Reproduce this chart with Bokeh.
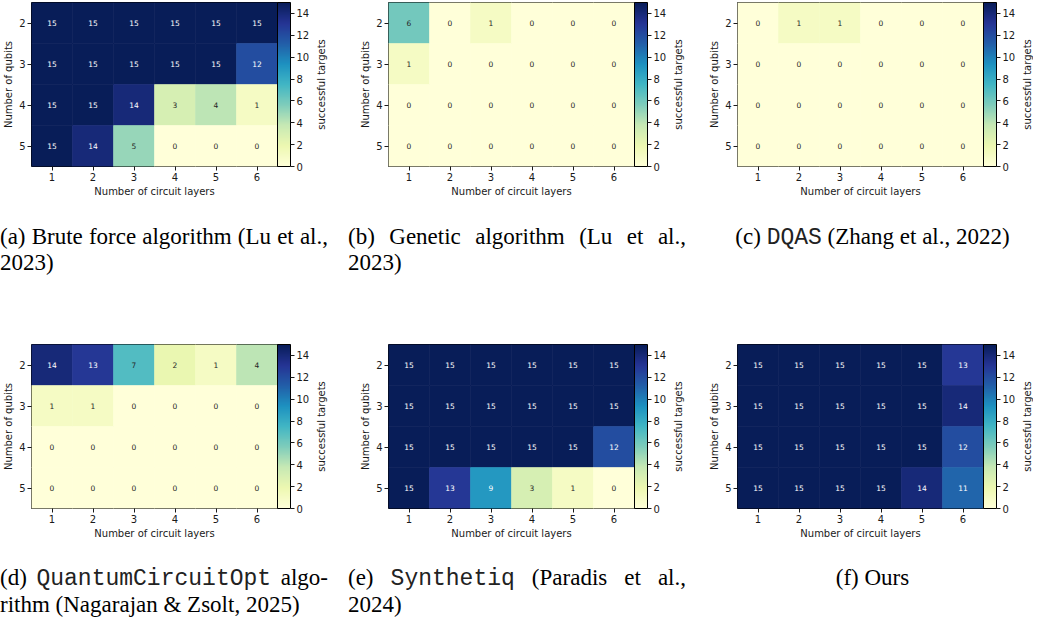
import numpy as np
from bokeh.plotting import figure
from bokeh.models import (ColumnDataSource, ColorBar, LinearColorMapper, FixedTicker,
                          Range1d, Div, Spacer)
from bokeh.layouts import column, row
from bokeh.embed import file_html
from bokeh.resources import INLINE
from bokeh.core.properties import value

# ---------------- data ----------------
layers = [1, 2, 3, 4, 5, 6]
qubits = [2, 3, 4, 5]

brute_force = [[15, 15, 15, 15, 15, 15],
               [15, 15, 15, 15, 15, 12],
               [15, 15, 14, 3, 4, 1],
               [15, 14, 5, 0, 0, 0]]
genetic = [[6, 0, 1, 0, 0, 0],
           [1, 0, 0, 0, 0, 0],
           [0, 0, 0, 0, 0, 0],
           [0, 0, 0, 0, 0, 0]]
dqas = [[0, 1, 1, 0, 0, 0],
        [0, 0, 0, 0, 0, 0],
        [0, 0, 0, 0, 0, 0],
        [0, 0, 0, 0, 0, 0]]
qcopt = [[14, 13, 7, 2, 1, 4],
         [1, 1, 0, 0, 0, 0],
         [0, 0, 0, 0, 0, 0],
         [0, 0, 0, 0, 0, 0]]
synthetiq = [[15, 15, 15, 15, 15, 15],
             [15, 15, 15, 15, 15, 15],
             [15, 15, 15, 15, 15, 12],
             [15, 13, 9, 3, 1, 0]]
ours = [[15, 15, 15, 15, 15, 13],
        [15, 15, 15, 15, 15, 14],
        [15, 15, 15, 15, 15, 12],
        [15, 15, 15, 15, 14, 11]]

cbar_ticks = [0, 2, 4, 6, 8, 10, 12, 14]
vmin, vmax = 0, 15

x_label = "Number of circuit layers"
y_label = "Number of qubits"
cbar_label = "successful targets"

# ---------------- colormap (YlGnBu) ----------------
ylgnbu9 = ['#ffffd9', '#edf8b1', '#c7e9b4', '#7fcdbb', '#41b6c4',
           '#1d91c0', '#225ea8', '#253494', '#081d58']
anchors = np.array([[int(c[i:i + 2], 16) / 255.0 for i in (1, 3, 5)] for c in ylgnbu9])
pos = np.linspace(0, 1, len(anchors))
t = np.linspace(0, 1, 256)
rgb256 = np.stack([np.interp(t, pos, anchors[:, k]) for k in range(3)], axis=1)
palette = ['#%02x%02x%02x' % tuple(int(round(v * 255)) for v in c) for c in rgb256]


def text_color(v):
    idx = min(int((v - vmin) / (vmax - vmin) * 256), 255)
    c = rgb256[idx]
    c = np.where(c <= 0.03928, c / 12.92, ((c + 0.055) / 1.055) ** 2.4)
    lum = c.dot([0.2126, 0.7152, 0.0722])
    return '#262626' if lum > 0.408 else '#ffffff'


FONT = "DejaVu Sans"
TXT = "#1a1a1a"
FW, FH = 246, 164
TOP, BOTTOM = 2, 33


def heat(vals):
    xs, ys, vs, labels, tcols = [], [], [], [], []
    for i, q in enumerate(qubits):
        for j, l in enumerate(layers):
            v = vals[i][j]
            xs.append(l); ys.append(q); vs.append(v)
            labels.append(str(v)); tcols.append(text_color(v))
    src = ColumnDataSource(dict(x=xs, y=ys, v=vs, label=labels, tc=tcols))
    mapper = LinearColorMapper(palette=palette, low=vmin, high=vmax)

    p = figure(frame_width=FW, frame_height=FH,
               x_range=Range1d(0.5, 6.5), y_range=Range1d(5.5, 1.5),
               output_backend="svg", toolbar_location=None,
               min_border_left=31, min_border_right=34,
               min_border_top=TOP, min_border_bottom=BOTTOM)
    p.rect(x='x', y='y', width=1, height=1, source=src,
           fill_color={'field': 'v', 'transform': mapper},
           line_color={'field': 'v', 'transform': mapper}, line_width=0.6)
    p.text(x='x', y='y', text='label', source=src, text_color='tc',
           text_align='center', text_baseline='middle',
           text_font=value(FONT), text_font_size='7.5px')

    p.grid.visible = False
    p.outline_line_color = 'black'
    p.outline_line_alpha = 1
    p.outline_line_width = 1
    p.background_fill_color = 'white'

    p.xaxis.ticker = FixedTicker(ticks=layers)
    p.yaxis.ticker = FixedTicker(ticks=qubits)
    p.xaxis.axis_label = x_label
    p.yaxis.axis_label = y_label
    for ax in (p.xaxis[0], p.yaxis[0]):
        ax.axis_line_color = None
        ax.major_tick_out = 4
        ax.major_tick_in = 0
        ax.major_tick_line_color = TXT
        ax.minor_tick_line_color = None
        ax.major_label_text_font = FONT
        ax.major_label_text_font_size = '10px'
        ax.major_label_text_color = TXT
        ax.major_label_standoff = 2
        ax.axis_label_text_font = FONT
        ax.axis_label_text_font_size = '10px'
        ax.axis_label_text_font_style = 'normal'
        ax.axis_label_text_color = TXT
        ax.axis_label_standoff = 2

    cb = ColorBar(color_mapper=mapper, ticker=FixedTicker(ticks=cbar_ticks),
                  width=13, margin=4, padding=0,
                  bar_line_color='black', bar_line_width=1,
                  major_tick_line_color=TXT, major_tick_out=4, major_tick_in=0,
                  minor_tick_line_color=None,
                  label_standoff=2, major_label_text_font=FONT,
                  major_label_text_font_size='10px', major_label_text_color=TXT,
                  background_fill_alpha=0, border_line_color=None)
    p.add_layout(cb, 'right')
    return p


def cbar_title(right_pad):
    # narrow strip holding the colour-bar title, read bottom-to-top
    q = figure(frame_width=1, frame_height=FH, x_range=Range1d(0, 1),
               y_range=Range1d(0, 1), x_axis_location=None,
               output_backend="svg", toolbar_location=None,
               min_border_left=13, min_border_right=right_pad,
               min_border_top=TOP, min_border_bottom=BOTTOM)
    q.grid.visible = False
    q.outline_line_color = None
    ax = q.yaxis[0]
    ax.ticker = FixedTicker(ticks=[])
    ax.axis_label = cbar_label
    ax.axis_line_color = None
    ax.major_tick_out = 0
    ax.major_tick_in = 0
    ax.minor_tick_line_color = None
    ax.major_label_standoff = 0
    ax.axis_label_standoff = 0
    ax.axis_label_text_font = FONT
    ax.axis_label_text_font_size = '10px'
    ax.axis_label_text_font_style = 'normal'
    ax.axis_label_text_color = TXT
    return q


def caption(first, second, width, centered=False):
    mono = "font-family:'Liberation Mono',monospace;color:#222;"
    first = first.replace('<tt>', f'<span style="{mono}">').replace('</tt>', '</span>')
    second = second.replace('<tt>', f'<span style="{mono}">').replace('</tt>', '</span>')
    base = ("font-family:'Liberation Serif',serif;font-size:23px;line-height:26px;"
            "color:#000;white-space:nowrap;")
    if centered:
        html = f'<div style="{base}width:{width}px;text-align:center;">{first}</div>'
    else:
        html = (f'<div style="{base}width:{width}px;">'
                f'<div style="text-align:justify;text-align-last:justify;">{first}</div>'
                f'<div style="text-align:left;">{second}</div></div>')
    return Div(text=html, width=width, height=52, margin=0)


pa, pb, pc = heat(brute_force), heat(genetic), heat(dqas)
pd, pe, pf = heat(qcopt), heat(synthetiq), heat(ours)

cap_a = caption("(a) Brute force algorithm (Lu et al.,", "2023)", 328)
cap_b = caption("(b) Genetic algorithm (Lu et al.,", "2023)", 338)
cap_c = caption("(c) <tt>DQAS</tt> (Zhang et al., 2022)", "", 333, centered=True)
cap_d = caption("(d) <tt>QuantumCircuitOpt</tt> algo-", "rithm (Nagarajan &amp; Zsolt, 2025)", 328)
cap_e = caption("(e) <tt>Synthetiq</tt> (Paradis et al.,", "2024)", 338)
cap_f = caption("(f) Ours", "", 333, centered=True)

layout = column(
    row(pa, cbar_title(30), pb, cbar_title(22), pc, cbar_title(0)),
    Spacer(height=25),
    row(cap_a, Spacer(width=20), cap_b, Spacer(width=20), cap_c),
    Spacer(height=66),
    row(pd, cbar_title(30), pe, cbar_title(22), pf, cbar_title(0)),
    Spacer(height=24),
    row(cap_d, Spacer(width=20), cap_e, Spacer(width=20), cap_f),
)

open("out.html", "w").write(file_html(layout, INLINE))
